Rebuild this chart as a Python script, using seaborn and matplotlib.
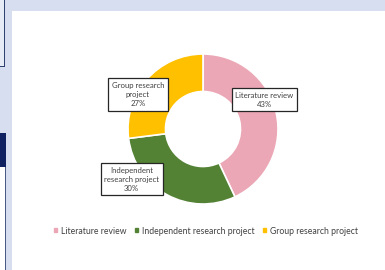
import matplotlib
matplotlib.use("Agg")
import matplotlib.pyplot as plt
import matplotlib.patches as mpatches
import seaborn as sns

labels = ["Literature review", "Independent research project", "Group research project"]
box_labels = ["Literature review\n43%", "Independent\nresearch project\n30%", "Group research\nproject\n27%"]
shares = [43, 30, 27]
colors = ["#EBA7B5", "#548235", "#FFC000"]

sns.set_theme(style="white")
plt.rcParams["font.family"] = ["Lato", "DejaVu Sans"]

W, H = 385, 270
fig = plt.figure(figsize=(W / 100, H / 100), dpi=100)
fig.patch.set_facecolor("#D6DEF0")


def px_rect(x0, y0, x1, y1, **kw):
    # rectangle in pixel coords (top-left origin), behind the axes
    fig.patches.append(mpatches.Rectangle(
        (x0 / W, 1 - y1 / H), (x1 - x0) / W, (y1 - y0) / H,
        transform=fig.transFigure, figure=fig, zorder=-5, **kw))


# page surroundings
px_rect(12, 11, W, H, facecolor="white", edgecolor="none")
px_rect(0, 0, 4, 66, facecolor="#E6EBF6", edgecolor="none")
px_rect(4, 0, 5, 67, facecolor="#2F4270", edgecolor="none")
px_rect(0, 66, 5, 67, facecolor="#2F4270", edgecolor="none")
px_rect(0, 133, 6, 167, facecolor="#0F2160", edgecolor="none")
px_rect(0, 167, 5, H, facecolor="white", edgecolor="none")
px_rect(5, 167, 6, H, facecolor="#4A5A86", edgecolor="none")

# donut
cx, cy, r = 203, 129, 75
ax = fig.add_axes([(cx - r) / W, 1 - (cy + r) / H, 2 * r / W, 2 * r / H])
ax.patch.set_alpha(0)
ax.pie(shares, colors=colors, startangle=90, counterclock=False, radius=1,
       wedgeprops=dict(width=0.5, edgecolor="white", linewidth=1.2))
ax.set_xlim(-1, 1)
ax.set_ylim(-1, 1)
ax.axis("off")

label_pos = [(0.82, 0.39), (-0.95, -0.67), (-0.87, 0.46)]
for txt, (lx, ly) in zip(box_labels, label_pos):
    ax.text(lx, ly, txt, ha="center", va="center", fontsize=5.6, color="#404040",
            linespacing=1.35,
            bbox=dict(boxstyle="square,pad=0.45", facecolor="white",
                      edgecolor="#262626", linewidth=0.9))

handles = [mpatches.Patch(color=c, label=l) for c, l in zip(colors, labels)]
fig.legend(handles=handles, loc="center", bbox_to_anchor=(206 / W, 1 - 231 / H),
           ncol=3, frameon=False, fontsize=6.2, handlelength=0.4, handleheight=0.35,
           handletextpad=0.5, columnspacing=0.9, labelcolor="#404040")

fig.savefig("out.png", dpi=100)
